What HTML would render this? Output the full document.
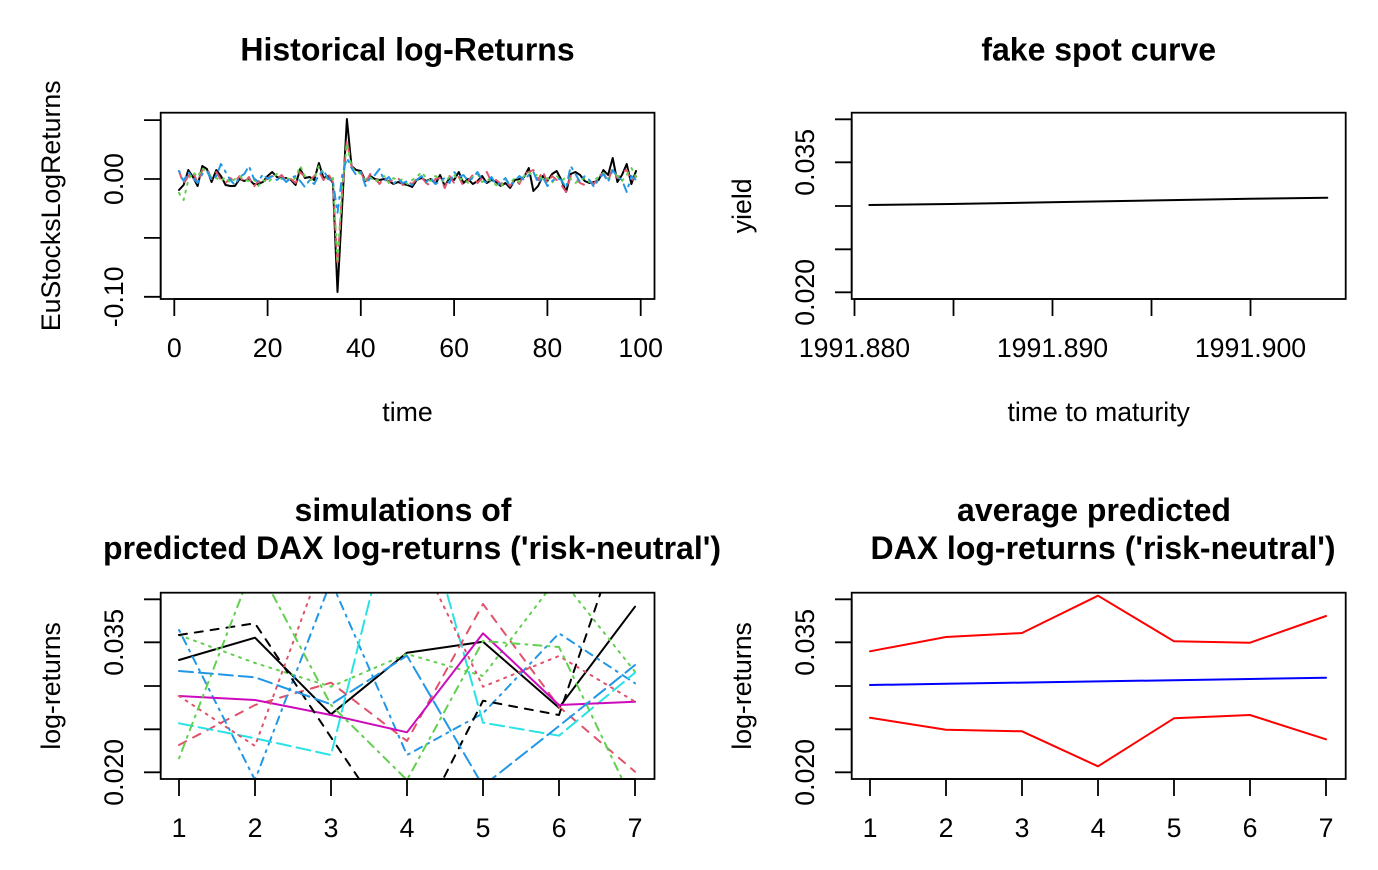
<!DOCTYPE html>
<html>
<head>
<meta charset="utf-8">
<style>
html,body{margin:0;padding:0;background:#fff;}
svg{display:block;}
text{font-family:"Liberation Sans",Arial,Helvetica,sans-serif;fill:#000;}
.t{font-size:32px;font-weight:bold;text-anchor:middle;}
.a{font-size:26.7px;text-anchor:middle;}
.box{fill:none;stroke:#000;stroke-width:1.8;}
.ax{stroke:#000;stroke-width:1.8;fill:none;}
.s{fill:none;stroke-width:2;stroke-linejoin:round;stroke-linecap:round;}
.d2{stroke-dasharray:8 8;}
.d3{stroke-dasharray:2 6;}
.d4{stroke-dasharray:2 6 8 6;}
.d5{stroke-dasharray:14 6;}
</style>
</head>
<body>
<svg width="1378" height="870" viewBox="0 0 1378 870" xmlns="http://www.w3.org/2000/svg">
<defs>
<clipPath id="c1"><rect x="160.7" y="112.7" width="493.8" height="186.3"/></clipPath>
<clipPath id="c3"><rect x="160.7" y="592.7" width="493.8" height="186.3"/></clipPath>
<clipPath id="c4"><rect x="851.7" y="592.7" width="494" height="186.3"/></clipPath>
</defs>
<rect width="1378" height="870" fill="#fff"/>

<!-- ============ PANEL 1 ============ -->
<text class="t" x="407.5" y="60.5">Historical log-Returns</text>
<g clip-path="url(#c1)">
<polyline class="s" stroke="#000" points="179.0,190 183.6,185 188.3,170 193.0,177 197.6,186 202.3,166 206.9,169 211.6,182 216.3,170 220.9,176 225.6,185 230.3,186 234.9,186 239.6,179 244.3,181 248.9,179 253.6,184 258.3,184 262.9,182 267.6,176 272.2,172 276.9,177 281.6,178 286.2,178 290.9,180 295.6,185 300.2,169 304.9,178 309.6,177 314.2,180 318.9,163 323.5,178 328.2,176 332.9,183 337.5,292 342.2,205 346.9,119 351.5,166 356.2,170 360.9,171 365.5,181 370.2,176 374.9,179 379.5,180 384.2,179 388.8,181 393.5,184 398.2,182 402.8,184 407.5,185 412.2,187 416.8,180 421.5,178 426.2,181 430.8,179 435.5,184 440.1,175 444.8,186 449.5,178 454.1,180 458.8,172 463.5,183 468.1,179 472.8,184 477.5,181 482.1,176 486.8,183 491.5,180 496.1,182 500.8,186 505.4,183 510.1,188 514.8,180 519.4,179 524.1,177 528.8,168 533.4,191 538.1,186 542.8,176 547.4,181 552.1,174 556.7,171 561.4,180 566.1,192 570.7,174 575.4,172 580.1,175 584.7,181 589.4,183 594.1,182 598.7,180 603.4,170 608.1,175 612.7,158 617.4,182 622.0,175 626.7,164 631.4,184 636.0,171"/>
<polyline class="s d2" stroke="#DF536B" points="179.0,171 183.6,184 188.3,176 193.0,172 197.6,183 202.3,170 206.9,168 211.6,179 216.3,172 220.9,180 225.6,183 230.3,178 234.9,182 239.6,176 244.3,183 248.9,177 253.6,187 258.3,181 262.9,183 267.6,178 272.2,176 276.9,179 281.6,175 286.2,181 290.9,179 295.6,183 300.2,172 304.9,177 309.6,181 314.2,176 318.9,171 323.5,180 328.2,174 332.9,182 337.5,266 342.2,190 346.9,140 351.5,166 356.2,173 360.9,172 365.5,183 370.2,174 374.9,178 379.5,184 384.2,177 388.8,182 393.5,180 398.2,178 402.8,185 407.5,182 412.2,184 416.8,179 421.5,177 426.2,183 430.8,186 435.5,179 440.1,178 444.8,188 449.5,176 454.1,183 458.8,177 463.5,186 468.1,181 472.8,175 477.5,183 482.1,178 486.8,172 491.5,182 496.1,180 500.8,184 505.4,181 510.1,186 514.8,179 519.4,184 524.1,174 528.8,172 533.4,170 538.1,180 542.8,171 547.4,183 552.1,176 556.7,180 561.4,185 566.1,192 570.7,176 575.4,178 580.1,183 584.7,185 589.4,181 594.1,184 598.7,176 603.4,173 608.1,181 612.7,168 617.4,178 622.0,172 626.7,170 631.4,181 636.0,176"/>
<polyline class="s d3" stroke="#61D04F" points="179.0,193 183.6,200 188.3,180 193.0,172 197.6,177 202.3,168 206.9,173 211.6,176 216.3,178 220.9,181 225.6,177 230.3,183 234.9,179 239.6,176 244.3,180 248.9,181 253.6,179 258.3,186 262.9,180 267.6,183 272.2,178 276.9,174 281.6,179 286.2,177 290.9,181 295.6,178 300.2,166 304.9,176 309.6,180 314.2,179 318.9,166 323.5,173 328.2,180 332.9,178 337.5,263 342.2,188 346.9,143 351.5,168 356.2,171 360.9,174 365.5,180 370.2,177 374.9,182 379.5,179 384.2,176 388.8,183 393.5,178 398.2,181 402.8,179 407.5,184 412.2,180 416.8,177 421.5,172 426.2,178 430.8,181 435.5,176 440.1,179 444.8,182 449.5,177 454.1,175 458.8,180 463.5,178 468.1,183 472.8,177 477.5,174 482.1,182 486.8,179 491.5,181 496.1,185 500.8,187 505.4,180 510.1,183 514.8,178 519.4,182 524.1,176 528.8,172 533.4,177 538.1,174 542.8,180 547.4,178 552.1,183 556.7,176 561.4,181 566.1,177 570.7,179 575.4,183 580.1,180 584.7,178 589.4,182 594.1,180 598.7,177 603.4,173 608.1,179 612.7,171 617.4,176 622.0,181 626.7,175 631.4,168 636.0,177"/>
<polyline class="s d4" stroke="#2297E6" points="179.0,171 183.6,181 188.3,172 193.0,178 197.6,183 202.3,174 206.9,171 211.6,180 216.3,176 220.9,164 225.6,172 230.3,180 234.9,185 239.6,177 244.3,174 248.9,166 253.6,178 258.3,182 262.9,174 267.6,179 272.2,176 276.9,180 281.6,177 286.2,182 290.9,178 295.6,176 300.2,181 304.9,187 309.6,180 314.2,184 318.9,175 323.5,170 328.2,179 332.9,181 337.5,213 342.2,175 346.9,158 351.5,168 356.2,175 360.9,172 365.5,186 370.2,178 374.9,175 379.5,169 384.2,181 388.8,177 393.5,184 398.2,179 402.8,183 407.5,181 412.2,185 416.8,180 421.5,176 426.2,182 430.8,178 435.5,184 440.1,181 444.8,178 449.5,183 454.1,172 458.8,177 463.5,175 468.1,181 472.8,178 477.5,172 482.1,180 486.8,183 491.5,177 496.1,185 500.8,183 505.4,178 510.1,186 514.8,181 519.4,176 524.1,180 528.8,175 533.4,172 538.1,183 542.8,177 547.4,186 552.1,181 556.7,178 561.4,180 566.1,188 570.7,166 575.4,174 580.1,182 584.7,176 589.4,180 594.1,187 598.7,179 603.4,174 608.1,182 612.7,170 617.4,177 622.0,180 626.7,192 631.4,176 636.0,180"/>
</g>
<rect class="box" x="160.7" y="112.7" width="493.8" height="186.3"/>
<path class="ax" d="M160.7,120.1V296.8 M144,120.1H160.7 M144,179H160.7 M144,237.9H160.7 M144,296.8H160.7"/>
<text class="a" transform="translate(123,179) rotate(-90)">0.00</text>
<text class="a" transform="translate(123,296.8) rotate(-90)">-0.10</text>
<path class="ax" d="M174.3,299H640.7 M174.3,299V316 M267.6,299V316 M360.8,299V316 M454.1,299V316 M547.4,299V316 M640.7,299V316"/>
<text class="a" x="174.3" y="357">0</text>
<text class="a" x="267.6" y="357">20</text>
<text class="a" x="360.8" y="357">40</text>
<text class="a" x="454.1" y="357">60</text>
<text class="a" x="547.4" y="357">80</text>
<text class="a" x="640.7" y="357">100</text>
<text class="a" x="407.5" y="421">time</text>
<text class="a" transform="translate(60,205.8) rotate(-90)">EuStocksLogReturns</text>

<!-- ============ PANEL 2 ============ -->
<text class="t" x="1098.7" y="60.5">fake spot curve</text>
<polyline class="s" stroke="#000" points="869.3,205 950,204 1050,202.3 1150,200.5 1250,198.8 1327.3,197.7"/>
<rect class="box" x="851.7" y="112.7" width="494" height="186.3"/>
<path class="ax" d="M851.7,119.3V292.3 M835,119.3H851.7 M835,162.3H851.7 M835,206H851.7 M835,249.3H851.7 M835,292.3H851.7"/>
<text class="a" transform="translate(814,162.3) rotate(-90)">0.035</text>
<text class="a" transform="translate(814,292.3) rotate(-90)">0.020</text>
<path class="ax" d="M854.5,299H1250.5 M854.5,299V316 M953.5,299V316 M1052.5,299V316 M1151.5,299V316 M1250.5,299V316"/>
<text class="a" x="854.5" y="357">1991.880</text>
<text class="a" x="1052.5" y="357">1991.890</text>
<text class="a" x="1250.5" y="357">1991.900</text>
<text class="a" x="1098.7" y="421">time to maturity</text>
<text class="a" transform="translate(751,205.8) rotate(-90)">yield</text>

<!-- ============ PANEL 3 ============ -->
<text class="t" x="403" y="521">simulations of</text>
<text class="t" x="412" y="559">predicted DAX log-returns ('risk-neutral')</text>
<g clip-path="url(#c3)">
<polyline class="s" stroke="#000" points="179,660 255,637.7 331,714.3 407,652.7 483,641.7 559,707.7 635,606.7"/>
<polyline class="s d2" stroke="#DF536B" points="179,745 255,705 331,682.7 407,741 483,604 559,706.7 635,771.7"/>
<polyline class="s d3" stroke="#61D04F" points="179,635 255,663 331,686.7 407,654 483,676 559,576 635,671.7"/>
<polyline class="s d4" stroke="#2297E6" points="179,630 255,780 331,581 407,755 483,713.3 559,633.3 635,683.3"/>
<polyline class="s d5" stroke="#28E2E5" points="179,723.3 255,738.3 331,755 407,450 483,722.7 559,735.7 635,672.7"/>
<polyline class="s" stroke="#CD0BBC" points="179,696 255,700 331,715 407,732.3 483,633.3 559,705 635,701.7"/>
<polyline class="s d2" stroke="#000" points="179,635 255,623.3 331,737.3 407,850 483,700.7 559,715 635,491.6"/>
<polyline class="s d3" stroke="#DF536B" points="179,696 255,746 331,539 407,531 483,686.7 559,656 635,701.7"/>
<polyline class="s d4" stroke="#61D04F" points="179,758.3 255,561 331,705 407,780 483,641 559,647 635,806"/>
<polyline class="s d5" stroke="#2297E6" points="179,671 255,677.3 331,704.3 407,655.7 483,786 559,726 635,665"/>
</g>
<rect class="box" x="160.7" y="592.7" width="493.8" height="186.3"/>
<path class="ax" d="M160.7,599.3V772.3 M144,599.3H160.7 M144,642.3H160.7 M144,686H160.7 M144,729.3H160.7 M144,772.3H160.7"/>
<text class="a" transform="translate(123,642.3) rotate(-90)">0.035</text>
<text class="a" transform="translate(123,772.3) rotate(-90)">0.020</text>
<path class="ax" d="M179,779H635 M179,779V796 M255,779V796 M331,779V796 M407,779V796 M483,779V796 M559,779V796 M635,779V796"/>
<text class="a" x="179" y="837">1</text>
<text class="a" x="255" y="837">2</text>
<text class="a" x="331" y="837">3</text>
<text class="a" x="407" y="837">4</text>
<text class="a" x="483" y="837">5</text>
<text class="a" x="559" y="837">6</text>
<text class="a" x="635" y="837">7</text>
<text class="a" transform="translate(60,685.9) rotate(-90)">log-returns</text>

<!-- ============ PANEL 4 ============ -->
<text class="t" x="1094" y="521">average predicted</text>
<text class="t" x="1103" y="559">DAX log-returns ('risk-neutral')</text>
<g clip-path="url(#c4)">
<polyline class="s" stroke="#FF0000" points="870,651.3 946,637 1022,633 1098,595.7 1174,641.3 1250,642.7 1326,616"/>
<polyline class="s" stroke="#0000FF" points="870,685 946,683.8 1022,682.6 1098,681.4 1174,680.2 1250,679 1326,677.7"/>
<polyline class="s" stroke="#FF0000" points="870,717.7 946,729.7 1022,731.3 1098,766.3 1174,718.3 1250,715 1326,739.3"/>
</g>
<rect class="box" x="851.7" y="592.7" width="494" height="186.3"/>
<path class="ax" d="M851.7,599.3V772.3 M835,599.3H851.7 M835,642.3H851.7 M835,686H851.7 M835,729.3H851.7 M835,772.3H851.7"/>
<text class="a" transform="translate(814,642.3) rotate(-90)">0.035</text>
<text class="a" transform="translate(814,772.3) rotate(-90)">0.020</text>
<path class="ax" d="M870,779H1326 M870,779V796 M946,779V796 M1022,779V796 M1098,779V796 M1174,779V796 M1250,779V796 M1326,779V796"/>
<text class="a" x="870" y="837">1</text>
<text class="a" x="946" y="837">2</text>
<text class="a" x="1022" y="837">3</text>
<text class="a" x="1098" y="837">4</text>
<text class="a" x="1174" y="837">5</text>
<text class="a" x="1250" y="837">6</text>
<text class="a" x="1326" y="837">7</text>
<text class="a" transform="translate(751,685.9) rotate(-90)">log-returns</text>
</svg>
</body>
</html>
